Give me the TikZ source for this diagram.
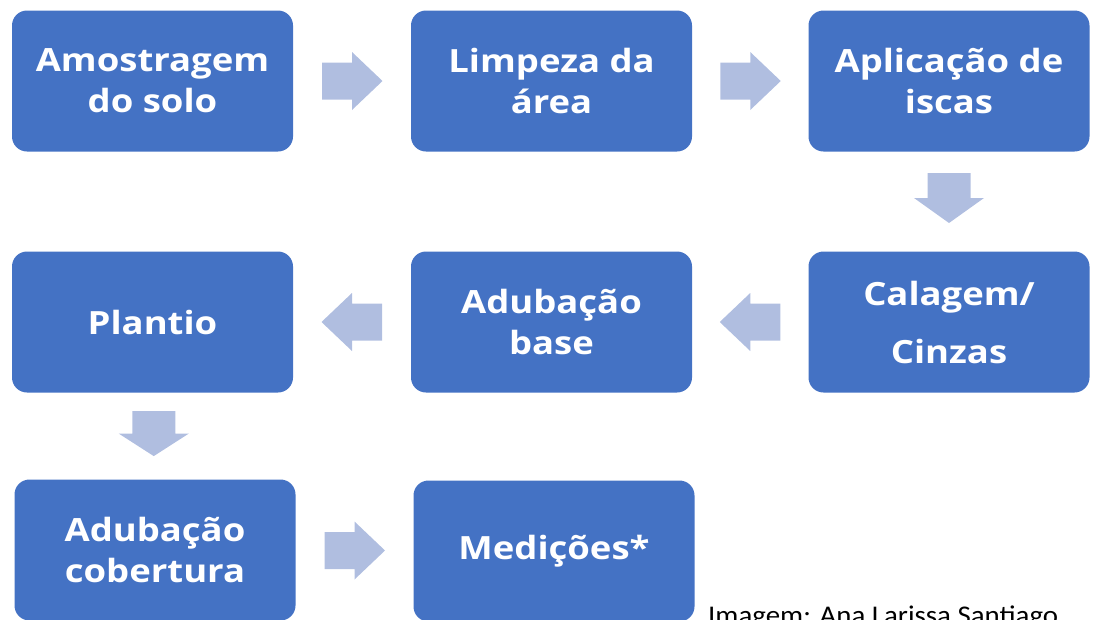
\documentclass[tikz,border=0pt]{standalone}
\usepackage{fontspec}
\setmainfont{Open Sans}
\newfontfamily\boxfont{Open Sans}[FakeStretch=1.14]
\newfontfamily\capfont{Carlito}[FakeStretch=1.07]
\definecolor{boxblue}{HTML}{4472C4}
\definecolor{arrowblue}{HTML}{B0BEE0}
\tikzset{
  stepbox/.style={fill=boxblue, rounded corners=15pt, minimum width=281pt, minimum height=141pt,
    inner sep=0pt, text=white, align=center, font=\boxfont\fontsize{32}{41}\selectfont\bfseries},
  rarrow/.pic={\fill[arrowblue] (-30,-18.5) -- (0,-18.5) -- (0,-29) -- (30.5,0) -- (0,29) -- (0,18.5) -- (-30,18.5) -- cycle;},
  darrow/.pic={\fill[arrowblue] (-21.5,-26) -- (21.5,-26) -- (21.5,-1) -- (35,-1) -- (0,24) -- (-35,-1) -- (-21.5,-1) -- cycle;},
}
\begin{document}
\begin{tikzpicture}[x=1pt,y=-1pt]
\useasboundingbox (0,0) rectangle (1093,619);
\clip (0,0) rectangle (1093,619);
\node[stepbox] (b1) at (152.5,81) {Amostragem\\do solo};
\node[stepbox] (b2) at (551.5,81) {Limpeza da\\área};
\node[stepbox] (b3) at (949,81) {Aplicação de\\iscas};
\node[stepbox] (b4) at (152.5,322) {Plantio};
\node[stepbox] (b5) at (551.5,322) {Adubação\\base};
\node[stepbox] (b6) at (949,322) {Calagem/\\[17pt]Cinzas};
\node[stepbox] (b7) at (155,550) {Adubação\\cobertura};
\node[stepbox] (b8) at (554,551) {Medições*};
\path (b1.east) -- (b2.west) coordinate[midway] (m12);
\path (b2.east) -- (b3.west) coordinate[midway] (m23);
\path (b3.south) -- (b6.north) coordinate[midway] (m36);
\path (b6.west) -- (b5.east) coordinate[midway] (m65);
\path (b5.west) -- (b4.east) coordinate[midway] (m54);
\path (b4.south) -- (b7.north) coordinate[midway] (m47);
\path (b7.east) -- (b8.west) coordinate[midway] (m78);
\pic (a12) at (m12) {rarrow};
\pic (a23) at (m23) {rarrow};
\pic (a36) at ([yshift=2.5pt]m36) {darrow};
\pic[xscale=1, yscale=0.9] (a47) at ([yshift=1.5pt]m47) {darrow};
\pic[rotate=180] (a65) at (m65) {rarrow};
\pic[rotate=180] (a54) at (m54) {rarrow};
\pic (a78) at (m78) {rarrow};
\node[anchor=base west, inner sep=0pt, font=\capfont\fontsize{27}{32}\selectfont] (cap) at (708,624) {Imagem: Ana Larissa Santiago};
\end{tikzpicture}
\end{document}
